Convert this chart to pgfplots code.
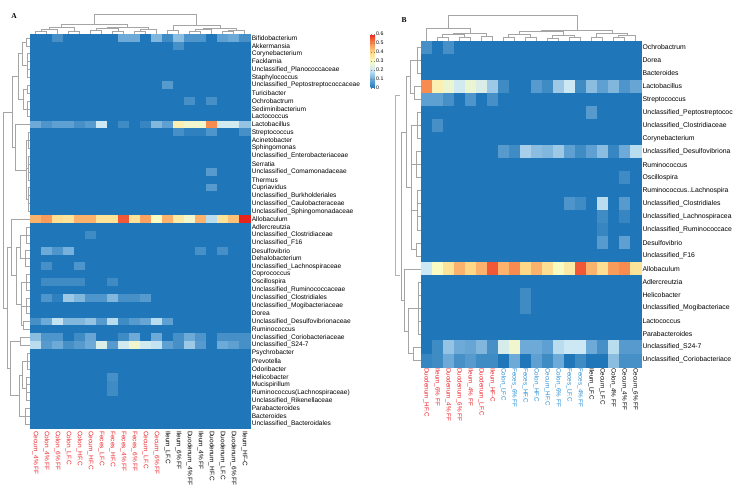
\documentclass[border=0pt]{standalone}
\usepackage{pgfplots}
\pgfplotsset{compat=1.18}
\usepackage{pgfplotstable}
\usepackage{fontspec}
\setmainfont{Liberation Sans}
\newfontfamily\serifbf{Liberation Serif}
\definecolor{lred}{RGB}{235,35,40}
\definecolor{lblue}{RGB}{35,140,210}
\definecolor{dgray}{RGB}{165,165,165}
\newcommand{\R}[1]{\textcolor{lred}{#1}}
\newcommand{\Bl}[1]{\textcolor{lblue}{#1}}

\pgfplotsset{
  colormap={hm}{rgb255=(31,118,184) rgb255=(110,170,215) rgb255=(205,232,245) rgb255=(250,250,195) rgb255=(254,215,135) rgb255=(248,140,80) rgb255=(232,35,30)},
  hmbase/.style={scale only axis, width=220pt, xmin=-0.5, xmax=19.5,
    axis line style={draw=none}, major tick length=0pt, xtick={0,...,19},
    colormap name=hm, point meta min=0, point meta max=0.6, clip=false,
    yticklabel pos=right},
  cellA/.style={scatter, only marks, mark=square*, mark size=4pt, scatter src=explicit,
    scatter/use mapped color={draw=mapped color, fill=mapped color},
    mark options={xscale=1.4, line width=0.1pt}},
  cellB/.style={scatter, only marks, mark=square*, mark size=6.6pt, scatter src=explicit,
    scatter/use mapped color={draw=mapped color, fill=mapped color},
    mark options={xscale=0.848, line width=0.1pt}},
  dendro/.style={draw=dgray, line width=0.5pt, no markers},
}

\pgfplotstableread{
r c0 c1 c2 c3 c4 c5 c6 c7 c8 c9 c10 c11 c12 c13 c14 c15 c16 c17 c18 c19
0 0 0 0.05 0 0 0 0 0 0.10 0.10 0 0.12 0.04 0.13 0.06 0.06 0 0.08 0.10 0.05
1 0 0 0 0 0 0 0 0 0 0 0 0 0 0.05 0 0 0 0 0 0
2 0 0 0 0 0 0 0 0 0 0 0 0 0 0 0 0 0 0 0 0
3 0 0 0 0 0 0 0 0 0 0 0 0 0 0 0 0 0 0 0 0
4 0 0 0 0 0 0 0 0 0 0 0 0 0 0 0 0 0 0 0 0
5 0 0 0 0 0 0 0 0 0 0 0 0 0 0 0 0 0 0 0 0
6 0 0 0 0 0 0 0 0 0 0 0 0 0.07 0 0 0 0 0 0 0
7 0 0 0 0 0 0 0 0 0 0 0 0 0 0 0 0 0 0 0 0
8 0 0 0 0 0 0 0 0 0 0 0 0 0 0 0.05 0 0.05 0 0 0
9 0 0 0 0 0 0 0 0 0 0 0 0 0 0 0 0 0 0 0 0
10 0 0 0 0 0 0 0 0 0 0 0 0 0 0 0 0 0 0 0 0
11 0.10 0.06 0.08 0.08 0.05 0.07 0.20 0 0.04 0 0.03 0.12 0.08 0.33 0.28 0.28 0.50 0.21 0.21 0.14
12 0 0 0 0 0 0 0 0 0 0 0 0 0 0.05 0.02 0.02 0.06 0 0 0.05
13 0 0 0 0 0 0 0 0 0 0 0 0 0 0 0 0 0 0 0 0
14 0 0 0 0 0 0 0 0 0 0 0 0 0 0 0 0 0 0 0 0
15 0 0 0 0 0 0 0 0 0 0 0 0 0 0 0 0 0 0 0 0
16 0 0 0 0 0 0 0 0 0 0 0 0 0 0 0 0 0 0 0 0
17 0 0 0 0 0 0 0 0 0 0 0 0 0 0 0 0 0.07 0 0 0
18 0 0 0 0 0 0 0 0 0 0 0 0 0 0 0 0 0 0 0 0
19 0 0 0 0 0 0 0 0 0 0 0 0 0 0 0 0 0.07 0 0 0
20 0 0 0 0 0 0 0 0 0 0 0 0 0 0 0 0 0 0 0 0
21 0 0 0 0 0 0 0 0 0 0 0 0 0 0 0 0 0 0 0 0
22 0 0 0 0 0 0 0 0 0 0 0 0 0 0 0 0 0 0 0 0
23 0.45 0.48 0.38 0.37 0.45 0.45 0.37 0.37 0.55 0.37 0.47 0.30 0.45 0.35 0.28 0.45 0.18 0.37 0.43 0.60
24 0 0 0 0 0 0 0 0 0 0 0 0 0 0 0 0 0 0 0 0
25 0 0 0 0 0 0.04 0 0 0 0 0 0 0 0 0 0 0 0 0 0
26 0 0 0 0 0 0 0 0 0 0 0 0 0 0 0 0 0 0 0 0
27 0 0.10 0.06 0.11 0 0 0 0 0 0 0 0 0 0 0 0.05 0 0.05 0 0
28 0 0 0 0 0 0 0 0 0 0 0 0 0 0 0 0 0 0 0 0
29 0 0.05 0 0 0.06 0 0 0 0 0 0 0 0 0 0 0 0 0 0 0
30 0 0 0 0 0 0 0 0 0 0 0 0 0 0 0 0 0 0 0 0
31 0 0.04 0.04 0.04 0.04 0 0 0.04 0 0 0 0 0 0 0 0 0 0 0 0
32 0 0 0 0 0 0 0 0 0 0 0 0 0 0 0 0 0 0 0 0
33 0 0.06 0.02 0.15 0.12 0.06 0.06 0.12 0.05 0.05 0.07 0 0 0 0 0 0 0 0 0
34 0 0 0 0 0 0 0 0 0 0 0 0 0 0 0 0 0 0 0 0
35 0 0 0 0 0 0 0 0 0 0 0 0 0 0 0 0 0 0 0 0
36 0.05 0.10 0.19 0.12 0.12 0.14 0.07 0.18 0.04 0.07 0.09 0.18 0.08 0 0 0 0 0 0 0
37 0 0 0 0 0 0 0 0 0 0 0 0 0 0 0 0 0 0 0 0
38 0.13 0.06 0.06 0 0.04 0.09 0 0 0.04 0.10 0 0.10 0 0.05 0.10 0.06 0 0.05 0.05 0.05
39 0.18 0.07 0.10 0.05 0.07 0.10 0.23 0.07 0.21 0.28 0.21 0.19 0.08 0.05 0.15 0.07 0 0.10 0.08 0.05
40 0 0 0 0 0 0 0 0 0 0 0 0 0 0 0 0 0 0 0 0
41 0 0 0 0 0 0 0 0 0 0 0 0 0 0 0 0 0 0 0 0
42 0 0 0 0 0 0 0 0 0 0 0 0 0 0 0 0 0 0 0 0
43 0 0 0 0 0 0 0 0.05 0 0 0 0 0 0 0 0 0 0 0 0
44 0 0 0 0 0 0 0 0.04 0 0 0 0 0 0 0 0 0 0 0 0
45 0 0 0 0 0 0 0 0.04 0 0 0 0 0 0 0 0 0 0 0 0
46 0 0 0 0 0 0 0 0 0 0 0 0 0 0 0 0 0 0 0 0
47 0 0 0 0 0 0 0 0 0 0 0 0 0 0 0 0 0 0 0 0
48 0 0 0 0 0 0 0 0 0 0 0 0 0 0 0 0 0 0 0 0
49 0 0 0 0 0 0 0 0 0 0 0 0 0 0 0 0 0 0 0 0
}\tA

\pgfplotstableread{
r c0 c1 c2 c3 c4 c5 c6 c7 c8 c9 c10 c11 c12 c13 c14 c15 c16 c17 c18 c19
0 0.05 0 0.05 0 0 0 0 0 0 0 0 0 0 0 0 0 0 0 0 0
1 0 0 0 0 0 0 0 0 0 0 0 0 0 0 0 0 0 0 0 0
2 0 0 0 0 0 0 0 0 0 0 0 0 0 0 0 0 0 0 0 0
3 0.50 0.33 0.27 0.21 0.27 0.23 0.15 0.04 0 0 0.07 0.04 0.15 0.20 0.04 0.13 0.08 0.12 0.06 0.09
4 0.08 0.08 0.05 0 0.06 0 0.05 0 0 0 0 0 0 0 0 0 0 0 0 0
5 0 0 0 0 0 0 0 0 0 0 0 0 0 0 0 0.07 0 0 0 0
6 0 0.05 0 0 0 0 0 0 0 0 0 0 0 0 0 0 0 0 0 0
7 0 0 0 0 0 0 0 0 0 0 0 0 0 0 0 0 0 0 0 0
8 0 0 0 0 0 0 0 0.07 0.04 0.16 0.13 0.12 0.15 0.08 0.04 0.08 0.13 0.03 0.10 0.18
9 0 0 0 0 0 0 0 0 0 0 0 0 0 0 0 0 0 0 0 0
10 0 0 0 0 0 0 0 0 0 0 0 0 0 0 0 0 0 0 0.04 0
11 0 0 0 0 0 0 0 0 0 0 0 0 0 0 0 0 0 0 0 0
12 0 0 0 0 0 0 0 0 0 0 0 0 0 0.06 0.04 0 0.18 0 0.07 0
13 0 0 0 0 0 0 0 0 0 0 0 0 0 0 0 0 0.04 0 0.03 0
14 0 0 0 0 0 0 0 0 0 0 0 0 0 0 0 0 0.03 0 0 0
15 0 0 0 0 0 0 0 0 0 0 0 0 0 0 0 0 0.07 0 0.08 0
16 0 0 0 0 0 0 0 0 0 0 0 0 0 0 0 0 0 0 0 0
17 0.20 0.30 0.37 0.45 0.40 0.45 0.55 0.45 0.50 0.40 0.45 0.38 0.30 0.35 0.55 0.45 0.38 0.48 0.50 0.37
18 0 0 0 0 0 0 0 0 0 0 0 0 0 0 0 0 0 0 0 0
19 0 0 0 0 0 0 0 0 0 0.04 0 0 0 0 0 0 0 0 0 0
20 0 0 0 0 0 0 0 0 0 0.04 0 0 0 0 0 0 0 0 0 0
21 0 0 0 0 0 0 0 0 0 0 0 0 0 0 0 0 0 0 0 0
22 0 0 0 0 0 0 0 0 0 0 0 0 0 0 0 0 0 0 0 0
23 0 0.04 0.14 0.10 0.09 0.12 0.05 0.22 0.28 0.10 0.10 0.08 0.18 0.20 0.20 0.10 0.05 0.18 0.07 0.07
24 0.03 0.04 0.10 0.05 0.07 0.04 0.04 0 0.10 0 0.08 0.04 0.10 0 0.04 0 0 0.13 0.05 0.05
}\tB

\begin{document}
\begin{tikzpicture}
% frame axis in pixel coordinates: dendrograms and panel letters
\begin{axis}[name=frame, at={(0,0)}, anchor=south west, scale only axis,
  width=734pt, height=488pt, xmin=0, xmax=734, ymin=0, ymax=488, y dir=reverse,
  axis line style={draw=none}, ticks=none, clip=false, unbounded coords=jump]
% A: column dendrogram
\addplot[dendro] coordinates {
(35.5,34)(35.5,31)(46.5,31)(46.5,34) (nan,nan)
(41,31)(41,29)(57.5,29)(57.5,34) (nan,nan)
(68.5,34)(68.5,31)(79.5,31)(79.5,34) (nan,nan)
(49.25,29)(49.25,27.5)(74,27.5)(74,31) (nan,nan)
(90.5,34)(90.5,30)(101.5,30)(101.5,34) (nan,nan)
(112.5,34)(112.5,31)(123.5,31)(123.5,34) (nan,nan)
(96,30)(96,28.5)(118,28.5)(118,31) (nan,nan)
(134.5,34)(134.5,31)(145.5,31)(145.5,34) (nan,nan)
(140,31)(140,29.5)(156.5,29.5)(156.5,34) (nan,nan)
(107,28.5)(107,27)(148.25,27)(148.25,29.5) (nan,nan)
(61.6,27.5)(61.6,24)(127.6,24)(127.6,27) (nan,nan)
(167.5,34)(167.5,30)(178.5,30)(178.5,34) (nan,nan)
(189.5,34)(189.5,31)(200.5,31)(200.5,34) (nan,nan)
(195,31)(195,29.5)(211.5,29.5)(211.5,34) (nan,nan)
(222.5,34)(222.5,31)(233.5,31)(233.5,34) (nan,nan)
(228,31)(228,30)(244.5,30)(244.5,34) (nan,nan)
(203.25,29.5)(203.25,28)(236.25,28)(236.25,30) (nan,nan)
(173,30)(173,25)(219.75,25)(219.75,28) (nan,nan)
(94.6,24)(94.6,14)(196.4,14)(196.4,25)
};
% A: row dendrogram
\addplot[dendro] coordinates {
(30,37.94)(26,37.94)(26,45.82)(30,45.82) (nan,nan)
(30,53.70)(27,53.70)(27,77.34)(30,77.34) (nan,nan) (30,61.58)(27,61.58) (nan,nan) (30,69.46)(27,69.46) (nan,nan)
(30,85.22)(27,85.22)(27,93.10)(30,93.10) (nan,nan)
(30,100.98)(27,100.98)(27,116.74)(30,116.74) (nan,nan) (30,108.86)(27,108.86) (nan,nan)
(26,41.88)(22,41.88)(22,65.52)(27,65.52) (nan,nan)
(27,89.16)(23,89.16)(23,108.86)(27,108.86) (nan,nan)
(22,53.70)(18,53.70)(18,99.01)(23,99.01) (nan,nan)
(30,132.50)(28,132.50)(28,148.26)(30,148.26) (nan,nan) (30,140.38)(28,140.38) (nan,nan)
(30,156.14)(28,156.14)(28,179.78)(30,179.78) (nan,nan) (30,164.02)(28,164.02) (nan,nan) (30,171.90)(28,171.90) (nan,nan)
(30,187.66)(28,187.66)(28,211.30)(30,211.30) (nan,nan) (30,195.54)(28,195.54) (nan,nan) (30,203.42)(28,203.42) (nan,nan)
(28,140.38)(26,140.38)(26,199.48)(28,199.48) (nan,nan) (28,167.96)(26,167.96) (nan,nan)
(30,124.62)(15,124.62)(15,169.93)(26,169.93) (nan,nan)
(18,76.36)(12,76.36)(12,147.28)(15,147.28) (nan,nan)
(30,227.06)(26,227.06)(26,242.82)(30,242.82) (nan,nan) (30,234.94)(26,234.94) (nan,nan)
(30,250.70)(25,250.70)(25,266.46)(30,266.46) (nan,nan) (30,258.58)(25,258.58) (nan,nan)
(30,274.34)(26,274.34)(26,290.10)(30,290.10) (nan,nan) (30,282.22)(26,282.22) (nan,nan)
(30,297.98)(26,297.98)(26,313.74)(30,313.74) (nan,nan) (30,305.86)(26,305.86) (nan,nan)
(30,321.62)(23,321.62)(23,329.50)(30,329.50) (nan,nan)
(26,234.94)(20,234.94)(20,258.58)(25,258.58) (nan,nan)
(26,282.22)(21,282.22)(21,325.56)(23,325.56) (nan,nan) (26,305.86)(21,305.86) (nan,nan)
(20,246.76)(16,246.76)(16,303.89)(21,303.89) (nan,nan)
(30,219.18)(11,219.18)(11,275.33)(16,275.33) (nan,nan)
(30,337.38)(20,337.38)(20,345.26)(30,345.26) (nan,nan)
(30,353.14)(27,353.14)(27,368.90)(30,368.90) (nan,nan) (30,361.02)(27,361.02) (nan,nan)
(30,376.78)(26,376.78)(26,400.42)(30,400.42) (nan,nan) (30,384.66)(26,384.66) (nan,nan) (30,392.54)(26,392.54) (nan,nan)
(30,408.30)(25,408.30)(25,424.06)(30,424.06) (nan,nan) (30,416.18)(25,416.18) (nan,nan)
(27,361.02)(22,361.02)(22,388.60)(26,388.60) (nan,nan)
(22,374.81)(19,374.81)(19,416.18)(25,416.18) (nan,nan)
(20,341.32)(10,341.32)(10,395.50)(19,395.50) (nan,nan)
(11,247.26)(7,247.26)(7,368.41)(10,368.41) (nan,nan)
(12,111.82)(3,111.82)(3,307.84)(7,307.84)
};
% B: column dendrogram
\addplot[dendro] coordinates {
(437.2,40.5)(437.2,37)(448.2,37)(448.2,40.5) (nan,nan)
(459.2,40.5)(459.2,37.5)(470.2,37.5)(470.2,40.5) (nan,nan)
(481.2,40.5)(481.2,36.5)(492.2,36.5)(492.2,40.5) (nan,nan)
(442.7,37)(442.7,34)(464.7,34)(464.7,37.5) (nan,nan)
(453.7,34)(453.7,33)(486.7,33)(486.7,36.5) (nan,nan)
(426.2,40.5)(426.2,28)(470.2,28)(470.2,33) (nan,nan)
(503.2,40.5)(503.2,37)(514.2,37)(514.2,40.5) (nan,nan)
(525.2,40.5)(525.2,37.5)(536.2,37.5)(536.2,40.5) (nan,nan)
(547.2,40.5)(547.2,38)(558.2,38)(558.2,40.5) (nan,nan)
(569.2,40.5)(569.2,37)(580.2,37)(580.2,40.5) (nan,nan)
(508.7,37)(508.7,34.5)(530.7,34.5)(530.7,37.5) (nan,nan)
(552.7,38)(552.7,35)(574.7,35)(574.7,37) (nan,nan)
(519.7,34.5)(519.7,31)(563.7,31)(563.7,35) (nan,nan)
(591.2,40.5)(591.2,37)(602.2,37)(602.2,40.5) (nan,nan)
(613.2,40.5)(613.2,37.5)(624.2,37.5)(624.2,40.5) (nan,nan)
(618.7,37.5)(618.7,35.5)(635.2,35.5)(635.2,40.5) (nan,nan)
(596.7,37)(596.7,33)(626.95,33)(626.95,35.5) (nan,nan)
(541.7,31)(541.7,30)(611.8,30)(611.8,33) (nan,nan)
(448.2,28)(448.2,15)(576.8,15)(576.8,30)
};
% B: row dendrogram
\addplot[dendro] coordinates {
(420.5,47.22)(417,47.22)(417,73.30)(420.5,73.30) (nan,nan) (420.5,60.26)(417,60.26) (nan,nan)
(420.5,86.34)(414,86.34)(414,99.38)(420.5,99.38) (nan,nan)
(420.5,112.42)(417,112.42)(417,138.50)(420.5,138.50) (nan,nan) (420.5,125.46)(417,125.46) (nan,nan)
(420.5,151.54)(416,151.54)(416,177.62)(420.5,177.62) (nan,nan) (420.5,164.58)(416,164.58) (nan,nan)
(420.5,190.66)(417,190.66)(417,229.78)(420.5,229.78) (nan,nan) (420.5,203.70)(417,203.70) (nan,nan) (420.5,216.74)(417,216.74) (nan,nan)
(420.5,242.82)(416,242.82)(416,255.86)(420.5,255.86) (nan,nan)
(420.5,281.94)(418,281.94)(418,334.10)(420.5,334.10) (nan,nan) (420.5,294.98)(418,294.98) (nan,nan) (420.5,308.02)(418,308.02) (nan,nan) (420.5,321.06)(418,321.06) (nan,nan)
(420.5,347.14)(413,347.14)(413,360.18)(420.5,360.18) (nan,nan)
(417,60.26)(410,60.26)(410,92.86)(414,92.86) (nan,nan)
(417,125.46)(411,125.46)(411,249.34)(416,249.34) (nan,nan) (416,164.58)(411,164.58) (nan,nan) (417,210.22)(411,210.22) (nan,nan)
(410,76.56)(406,76.56)(406,187.40)(411,187.40) (nan,nan)
(418,308.02)(408,308.02)(408,353.66)(413,353.66) (nan,nan)
(420.5,268.90)(404,268.90)(404,330.84)(408,330.84) (nan,nan)
(406,131.98)(401,131.98)(401,299.87)(404,299.87)
};
% faint frame line
\addplot[draw=black!30, line width=0.4pt, no markers] coordinates {(400,95)(395,95)(395,275)(400,275)};
\node[font=\serifbf\bfseries\fontsize{7.5}{7.5}\selectfont] at (axis cs:14,16) {A};
\node[font=\serifbf\bfseries\fontsize{7.5}{7.5}\selectfont] at (axis cs:404,20) {B};
\end{axis}

% Panel A heatmap
\begin{axis}[hmbase, name=hmA, at={(30pt,454pt)}, anchor=north west, height=394pt,
  ymin=-49.5, ymax=0.5, ytick={-49,...,0},
  xticklabel style={rotate=-90, anchor=west, inner xsep=3pt, inner ysep=0pt, font=\fontsize{6.5}{6.5}\selectfont},
  yticklabel style={anchor=west, inner xsep=1.6pt, inner ysep=0pt, font=\fontsize{6.6}{6.6}\selectfont, text=black},
  xticklabels={\R{Cecum\_4\% FF},\R{Colon\_4\% FF},\R{Colon\_6\% FF},\R{Colon\_LF.C},\R{Colon\_HF.C},\R{Cecum\_HF.C},\R{Feces\_LF.C},\R{Feces\_HF.C},\R{Feces\_4\% FF},\R{Feces\_6\% FF},\R{Cecum\_LF.C},\R{Cecum\_6\% FF},Ileum\_LF.C,Ileum\_6\% FF,Duodenum\_4\% FF,Ileum\_4\% FF,Duodenum\_HF.C,Duodenum\_LF.C,Duodenum\_6\% FF,Ileum\_HF-C},
  yticklabels={Unclassified\_Bacteroidales,Bacteroides,Parabacteroides,Unclassified\_Rikenellaceae,Ruminococcus(Lachnospiraceae),Mucispirillum,Helicobacter,Odoribacter,Prevotella,Psychrobacter,Unclassified\_S24-7,Unclassified\_Coriobacteriaceae,Ruminococcus,Unclassified\_Desulfovibrionaceae,Dorea,Unclassified\_Mogibacteriaceae,Unclassified\_Clostridiales,Unclassified\_Ruminococcaceae,Oscillospira,Coprococcus,Unclassified\_Lachnospiraceae,Dehalobacterium,Desulfovibrio,Unclassified\_F16,Unclassified\_Clostridiaceae,Adlercreutzia,Allobaculum,Unclassified\_Sphingomonadaceae,Unclassified\_Caulobacteraceae,Unclassified\_Burkholderiales,Cupriavidus,Thermus,Unclassified\_Comamonadaceae,Serratia,Unclassified\_Enterobacteriaceae,Sphingomonas,Acinetobacter,Streptococcus,Lactobacillus,Lactococcus,Sediminibacterium,Ochrobactrum,Turicibacter,Unclassified\_Peptostreptococcaceae,Staphylococcus,Unclassified\_Planococcaceae,Facklamia,Corynebacterium,Akkermansia,Bifidobacterium},
  colorbar,
  colorbar style={at={(parent axis.north east)}, anchor=north west, xshift=112pt,
    scale only axis, width=4.5pt, height=54pt, xtick=\empty,
    ytick={0,0.1,0.2,0.3,0.4,0.5,0.6}, yticklabel={\pgfmathprintnumber{\tick}},
    yticklabel pos=right, major tick length=1.2pt, axis line style={draw=none},
    yticklabel style={font=\fontsize{5.2}{5.2}\selectfont, inner xsep=1pt, anchor=west, /pgf/number format/assume math mode=true}}
]
\pgfplotsinvokeforeach{0,...,19}{
  \addplot[cellA] table[x expr=#1, y expr=-\thisrow{r}, meta=c#1] {\tA};
}
\end{axis}

% Panel B heatmap
\begin{axis}[hmbase, name=hmB, at={(420.7pt,447.3pt)}, anchor=north west, height=326pt,
  ymin=-24.5, ymax=0.5, ytick={-24,...,0},
  xticklabel style={rotate=-90, anchor=west, inner xsep=1.5pt, inner ysep=0pt, font=\fontsize{6.3}{6.3}\selectfont},
  yticklabel style={anchor=west, inner xsep=1.6pt, inner ysep=0pt, font=\fontsize{6.85}{6.85}\selectfont, text=black},
  xticklabels={\R{Duodenum\_HF.C},\R{Ileum\_6\% FF},\R{Duodenum\_4\% FF},\R{Duodenum\_6\% FF},\R{Ileum\_4\% FF},\R{Duodenum\_LF.C},\R{Ileum\_HF-C},\Bl{Colon\_LF.C},\Bl{Feces\_6\% FF},\Bl{Feces\_HF.C},\Bl{Colon\_HF.C},\Bl{Cecum\_HF.C},\Bl{Colon\_6\% FF},\Bl{Feces\_LF.C},\Bl{Feces\_4\% FF},Ileum\_LF.C,Cecum\_LF.C,Colon\_4\% FF,Cecum\_4\% FF,Cecum\_6\% FF},
  yticklabels={Unclassified\_Coriobacteriace,Unclassified\_S24-7,Parabacteroides,Lactococcus,Unclassified\_Mogibacteriace,Helicobacter,Adlercreutzia,Allobaculum,Unclassified\_F16,Desulfovibrio,Unclassified\_Ruminococcace,Unclassified\_Lachnospiracea,Unclassified\_Clostridiales,Ruminococcus..Lachnospira,Oscillospira,Ruminococcus,Unclassified\_Desulfovibriona,Corynebacterium,Unclassified\_Clostridiaceae,Unclassified\_Peptostreptococ,Streptococcus,Lactobacillus,Bacteroides,Dorea,Ochrobactrum}
]
\pgfplotsinvokeforeach{0,...,19}{
  \addplot[cellB] table[x expr=#1, y expr=-\thisrow{r}, meta=c#1] {\tB};
}
\end{axis}
\pgfresetboundingbox
\path[use as bounding box] (frame.south west) rectangle (frame.north east);
\end{tikzpicture}
\end{document}
